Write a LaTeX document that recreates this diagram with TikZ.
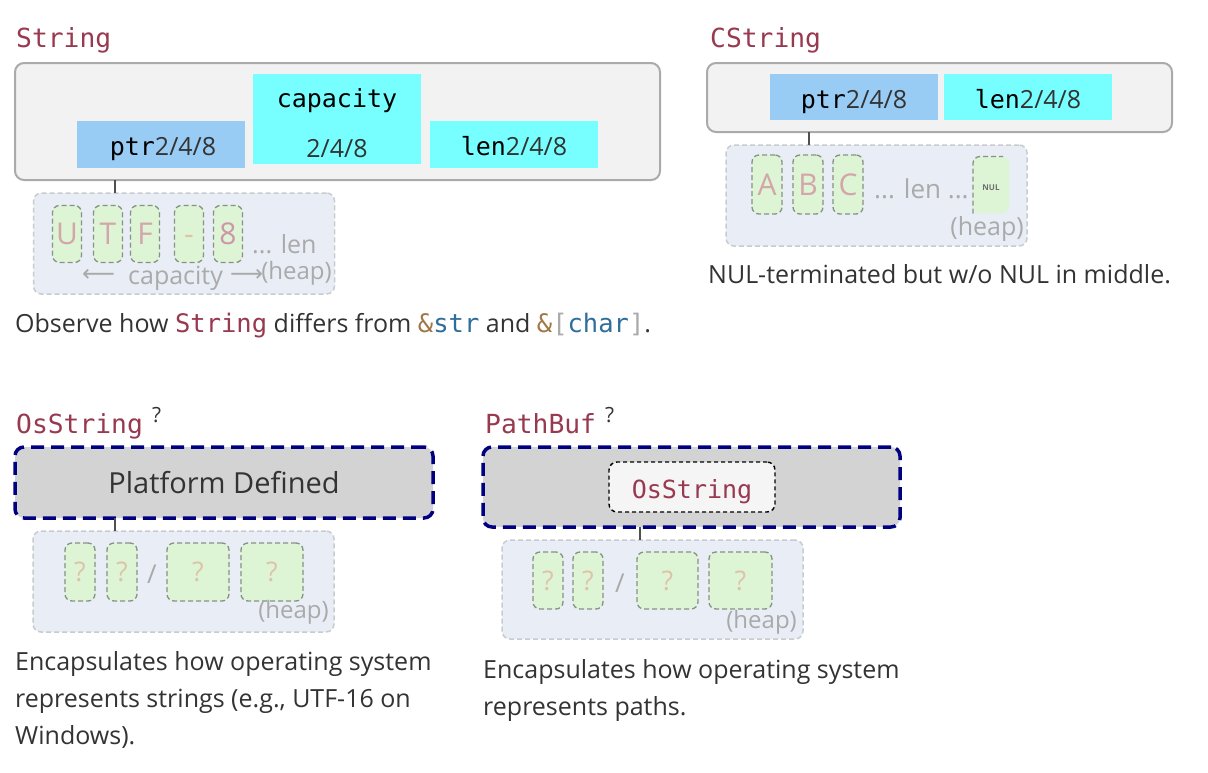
\documentclass[tikz,border=0pt]{standalone}
\usepackage{fontspec}
\setmainfont{Open Sans}
\newfontfamily\mono{DejaVu Sans Mono}
\newfontfamily\symb{DejaVu Sans}
\definecolor{titlered}{RGB}{152,57,80}
\definecolor{boxgray}{RGB}{242,242,242}
\definecolor{boxborder}{RGB}{170,170,170}
\definecolor{ptrblue}{RGB}{153,204,245}
\definecolor{cyanbox}{RGB}{119,255,255}
\definecolor{heapfill}{RGB}{233,237,245}
\definecolor{heapborder}{RGB}{200,203,208}
\definecolor{cellfill}{RGB}{221,245,213}
\definecolor{cellborder}{RGB}{135,145,135}
\definecolor{letterpink}{RGB}{212,165,170}
\definecolor{lettertan}{RGB}{222,195,170}
\definecolor{lightgraytext}{RGB}{170,170,170}
\definecolor{bodytext}{RGB}{51,51,51}
\definecolor{navy}{RGB}{0,0,128}
\definecolor{pfgray}{RGB}{211,211,211}
\definecolor{ampbrown}{RGB}{160,120,70}
\definecolor{codeblue}{RGB}{47,110,154}
\definecolor{connector}{RGB}{80,80,80}
\begin{document}
\begin{tikzpicture}[x=1pt,y=-1pt,
  outerbox/.style={draw=boxborder, line width=2pt, fill=boxgray, rounded corners=9pt, inner sep=0pt, outer sep=0pt},
  field/.style={inner sep=0pt, outer sep=0pt},
  heapbox/.style={draw=heapborder, line width=1.5pt, fill=heapfill, rounded corners=8pt, dash pattern=on 5pt off 3pt, inner sep=0pt, outer sep=0pt},
  cell/.style={draw=cellborder, line width=1.3pt, fill=cellfill, rounded corners=7pt, dash pattern=on 5pt off 3pt, inner sep=0pt, outer sep=0pt, minimum width=29pt, minimum height=57pt},
  letter/.style={font=\fontsize{30}{30}\selectfont, text=letterpink, text height=21pt, text depth=0pt},
  qmark/.style={font=\fontsize{27}{27}\selectfont, text=lettertan, text height=19pt, text depth=0pt},
  platbox/.style={draw=navy, line width=3.5pt, fill=pfgray, rounded corners=9pt, dash pattern=on 13pt off 7pt, inner sep=0pt, outer sep=0pt},
  title/.style={font=\fontsize{26.3}{26.3}\mono, text=titlered, anchor=base west, inner sep=0pt},
  qsup/.style={font=\fontsize{21}{21}\selectfont, text=bodytext, anchor=base west, inner sep=0pt},
  body/.style={font=\fontsize{25}{37}\selectfont, text=bodytext, anchor=base west, inner sep=0pt},
  gtext/.style={text=lightgraytext, inner sep=0pt},
  conn/.style={draw=connector, line width=1.3pt},
  infield/.style={anchor=base, inner sep=0pt}
]
\useasboundingbox (0,0) rectangle (1208,772);

% ---------------- String ----------------
\node[title] (tString) at (16,47) {String};
\node[outerbox, minimum width=645pt, minimum height=117pt] (strbox) at (337.5,121.5) {};
\node[field, fill=ptrblue, minimum width=168pt, minimum height=47pt] (sptr) at (161,144.5) {};
\node[field, fill=cyanbox, minimum width=168pt, minimum height=90pt] (scap) at (337,119) {};
\node[field, fill=cyanbox, minimum width=168pt, minimum height=47pt] (slen) at (514,144.5) {};
\node[infield] (sptrt) at (163,155) {{\fontsize{25}{25}\mono ptr}{\fontsize{25}{25}\selectfont\color{bodytext}2/4/8}};
\node[infield] (scapt) at (337,107) {\fontsize{25}{25}\mono capacity};
\node[infield] (scapn) at (337,157) {\fontsize{25}{25}\selectfont\color{bodytext}2/4/8};
\node[infield] (slent) at (514,155) {{\fontsize{25}{25}\mono len}{\fontsize{25}{25}\selectfont\color{bodytext}2/4/8}};

\node[heapbox, minimum width=301pt, minimum height=101pt] (sheap) at (184,243.5) {};
\coordinate (sx) at (115,0);
\draw[conn] (strbox.south -| sx) -- (sheap.north -| sx);
\node[cell] (cU) at (67,234) {};
\node[cell] (cT) at (108,234) {};
\node[cell] (cF) at (145,234) {};
\node[cell] (cD) at (189,234) {};
\node[cell] (c8) at (228,234) {};
\node[letter] at (cU) {U};
\node[letter] at (cT) {T};
\node[letter] at (cF) {F};
\node[letter, text=lettertan] at (cD) {-};
\node[letter, text={rgb,255:red,205;green,150;blue,170}] at (c8) {8};
\node[gtext, anchor=base west, font=\fontsize{25}{25}\selectfont] (slen2) at (252,253) {... len};
\node[gtext, anchor=base west, font=\fontsize{23}{23}\symb] (larr) at (82,281) {⟵};
\node[gtext, anchor=base west, font=\fontsize{25}{25}\selectfont] (scapl) at (128,284) {capacity};
\node[gtext, anchor=base west, font=\fontsize{23}{23}\symb] (rarr) at (230,281) {⟶};
\node[gtext, anchor=base east, font=\fontsize{24}{24}\selectfont] (sheapl) at (332,279) {(heap)};

\node[body] (obs) at (15,332) {Observe how {\fontsize{25.5}{25.5}\mono\color{titlered}String} differs from {\fontsize{25.5}{25.5}\mono\color{ampbrown}\&\color{codeblue}str} and {\fontsize{25.5}{25.5}\mono\color{ampbrown}\&\color{lightgraytext}[\color{codeblue}char\color{lightgraytext}]}.};

% ---------------- CString ----------------
\node[title] (tCString) at (710,47) {CString};
\node[outerbox, minimum width=465pt, minimum height=69pt] (cbox) at (939.5,97.5) {};
\node[field, fill=ptrblue, minimum width=168pt, minimum height=46pt] (cptr) at (854,97) {};
\node[field, fill=cyanbox, minimum width=168pt, minimum height=46pt] (clen) at (1028,97) {};
\node[infield] (cptrt) at (854,108) {{\fontsize{25}{25}\mono ptr}{\fontsize{25}{25}\selectfont\color{bodytext}2/4/8}};
\node[infield] (clent) at (1028,108) {{\fontsize{25}{25}\mono len}{\fontsize{25}{25}\selectfont\color{bodytext}2/4/8}};

\node[heapbox, minimum width=301pt, minimum height=101pt] (cheap) at (876.5,195.5) {};
\coordinate (cx) at (809,0);
\draw[conn] (cbox.south -| cx) -- (cheap.north -| cx);
\node[cell, minimum width=30pt, minimum height=59pt] (cA) at (767,184.5) {};
\node[cell, minimum width=30pt, minimum height=59pt] (cB) at (808,184.5) {};
\node[cell, minimum width=30pt, minimum height=59pt] (cC) at (848,184.5) {};
\node[letter] at (cA) {A};
\node[letter] at (cB) {B};
\node[letter] at (cC) {C};
\node[gtext, anchor=base west, font=\fontsize{26}{26}\selectfont] (clen2) at (874,198) {... len ...};
\node[field, fill=cellfill, rounded corners=7pt, minimum width=36pt, minimum height=57pt] (cNUL) at (991,185) {};
\draw[draw=cellborder, line width=1.3pt, dash pattern=on 5pt off 3pt, rounded corners=7pt]
  (cNUL.south west) -- (cNUL.north west) -- ([xshift=-6pt]cNUL.north east);
\node[font=\bfseries\fontsize{8}{8}\selectfont, text={rgb,255:red,110;green,110;blue,110}, inner sep=0pt] (nultxt) at (991,188) {NUL};
\node[gtext, anchor=base east, font=\fontsize{25}{25}\selectfont] (cheapl) at (1024,235) {(heap)};
\node[body] (cnote) at (708,283) {NUL-terminated but w/o NUL in middle.};

% ---------------- OsString ----------------
\node[title] (tOs) at (16,433) {OsString};
\node[qsup] (qOs) at (152,422) {?};
\node[platbox, minimum width=418pt, minimum height=71pt] (osbox) at (224,482.5) {};
\node[font=\fontsize{29}{29}\selectfont, text=bodytext, anchor=base, inner sep=0pt] (plat) at (224,493) {Platform Defined};
\node[heapbox, minimum width=301pt, minimum height=101pt] (oheap) at (183.5,581.5) {};
\coordinate (ox) at (115,0);
\draw[conn] (osbox.south -| ox) -- (oheap.north -| ox);
\node[cell, minimum width=30pt, minimum height=58pt] (o1) at (80,572) {};
\node[cell, minimum width=30pt, minimum height=58pt] (o2) at (122,572) {};
\node[cell, minimum width=62pt, minimum height=58pt] (o3) at (198,572) {};
\node[cell, minimum width=62pt, minimum height=58pt] (o4) at (272,572) {};
\node[qmark] at (o1) {?};
\node[qmark] at (o2) {?};
\node[qmark] at (o3) {?};
\node[qmark] at (o4) {?};
\node[gtext, anchor=base, font=\fontsize{26}{26}\selectfont] (oslash) at (152,583) {/};
\node[gtext, anchor=base east, font=\fontsize{24}{24}\selectfont] (oheapl) at (329,618) {(heap)};
\node[body] (osnote1) at (15,670) {Encapsulates how operating system};
\node[body] (osnote2) at (15,707) {represents strings (e.g., UTF-16 on};
\node[body] (osnote3) at (15,744) {Windows).};

% ---------------- PathBuf ----------------
\node[title] (tPB) at (485,433) {PathBuf};
\node[qsup] (qPB) at (605,422) {?};
\node[platbox, minimum width=417pt, minimum height=80pt] (pbbox) at (691.5,487) {};
\node[draw=black, line width=1.4pt, dash pattern=on 4pt off 3pt, fill={rgb,255:red,245;green,245;blue,245}, rounded corners=8pt, minimum width=166pt, minimum height=50pt, inner sep=0pt] (pbos) at (692,487) {};
\node[infield, font=\fontsize{25}{25}\mono, text=titlered] (pbost) at (692,498) {OsString};
\node[heapbox, minimum width=301pt, minimum height=99pt] (pheap) at (652.5,589.5) {};
\coordinate (px) at (640,0);
\draw[conn] (pbbox.south -| px) -- (pheap.north -| px);
\node[cell, minimum width=30pt, minimum height=57pt] (p1) at (548,580.5) {};
\node[cell, minimum width=30pt, minimum height=57pt] (p2) at (588,580.5) {};
\node[cell, minimum width=61pt, minimum height=57pt] (p3) at (667.5,580.5) {};
\node[cell, minimum width=63pt, minimum height=57pt] (p4) at (740.5,580.5) {};
\node[qmark] at (p1) {?};
\node[qmark] at (p2) {?};
\node[qmark] at (p3) {?};
\node[qmark] at (p4) {?};
\node[gtext, anchor=base, font=\fontsize{26}{26}\selectfont] (pslash) at (620,592) {/};
\node[gtext, anchor=base east, font=\fontsize{24}{24}\selectfont] (pheapl) at (797,628) {(heap)};
\node[body] (pbnote1) at (483,678) {Encapsulates how operating system};
\node[body] (pbnote2) at (483,715) {represents paths.};
\end{tikzpicture}
\end{document}
